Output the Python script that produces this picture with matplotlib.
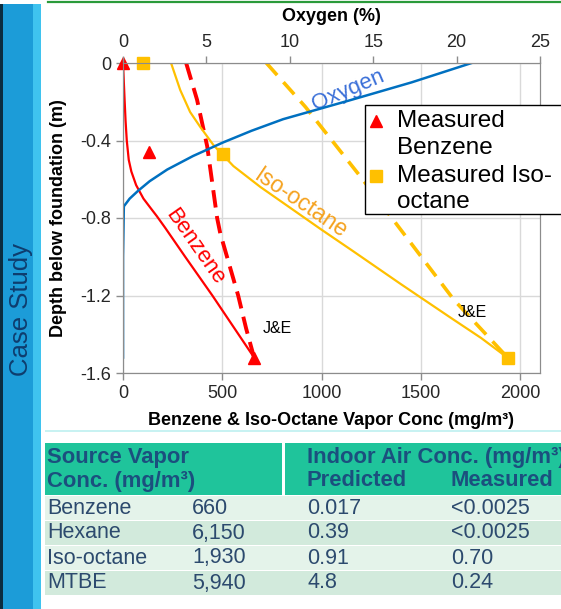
import matplotlib.pyplot as plt
from matplotlib.patches import Rectangle
from matplotlib.lines import Line2D

plt.rcParams['font.family'] = ['Liberation Sans', 'DejaVu Sans']
plt.rcParams['axes.unicode_minus'] = False

# ---- profile data (depth in m, concentrations in mg/m3, oxygen in %) ----
benz_depth = [0, -0.19, -0.3, -0.4, -0.5, -0.56, -0.63, -0.7, -0.75, -0.79,
              -0.85, -1.0, -1.2, -1.52]
benz_conc = [0, 8, 13, 19, 29, 42, 66, 103, 140, 170, 212, 313, 450, 660]

benz_je_depth = [0, -0.19, -0.43, -0.8, -0.88, -1.2, -1.37, -1.52]
benz_je_conc = [318, 373, 424, 474, 490, 580, 620, 660]

iso_depth = [0, -0.139, -0.253, -0.33, -0.423, -0.532, -0.64, -0.748, -0.857,
             -0.97, -1.141, -1.316, -1.419, -1.523]
iso_conc = [242, 288, 338, 389, 455, 556, 692, 843, 995, 1157, 1399, 1652, 1803, 1939]

iso_je_depth = [0, -0.227, -0.588, -0.95, -1.223, -1.523]
iso_je_conc = [722, 919, 1197, 1465, 1667, 1939]

o2_depth = [0, -0.1, -0.19, -0.29, -0.35, -0.41, -0.48, -0.55, -0.61, -0.66,
            -0.7, -0.74, -1.0, -1.52]
o2_pct = [20.9, 17.3, 13.7, 9.6, 7.7, 6.0, 4.2, 2.65, 1.6, 0.9, 0.4, 0.05, 0.0, 0.0]

meas_benz_conc = [0, 131, 660]
meas_benz_depth = [0, -0.46, -1.52]
meas_iso_conc = [101, 505, 1940]
meas_iso_depth = [0, -0.47, -1.52]

conc_ticks = [0, 500, 1000, 1500, 2000]
depth_ticks = [0, -0.4, -0.8, -1.2, -1.6]
depth_labels = ["0", "-0.4", "-0.8", "-1.2", "-1.6"]
o2_ticks = [0, 5, 10, 15, 20, 25]

# ---- table data ----
chemicals = ["Benzene", "Hexane", "Iso-octane", "MTBE"]
source_conc = ["660", "6,150", "1,930", "5,940"]
predicted = ["0.017", "0.39", "0.91", "4.8"]
measured = ["<0.0025", "<0.0025", "0.70", "0.24"]

RED = '#FF0000'
GOLD = '#FFC000'
BLUE = '#0070C0'

W, H = 561, 609
fig = plt.figure(figsize=(W / 100, H / 100), dpi=100)


def fx(px):
    return px / W


def fy(py):
    return 1 - py / H


def frect(x0, y0, x1, y1, **kw):
    # rectangle given in pixel coords (top-left origin)
    r = Rectangle((fx(x0), fy(y1)), fx(x1) - fx(x0), fy(y0) - fy(y1),
                  transform=fig.transFigure, **kw)
    fig.add_artist(r)
    return r


# side bar and top rule
frect(0, 4, 3, H, color='#0b2d40', lw=0)
frect(3, 4, 33, H, color='#1c9cd8', lw=0)
frect(33, 4, 41, H, color='#3fc3ef', lw=0)
fig.add_artist(Line2D([fx(48), 1], [fy(2), fy(2)], transform=fig.transFigure,
                      color='#2a9a3a', lw=1.6))
fig.text(fx(21), fy(310), "Case Study", rotation=90, fontsize=18.5,
         color='#0e3d6e', ha='center', va='center')

# ---- chart ----
ax = fig.add_axes([fx(123), fy(373), fx(540) - fx(123), fy(63) - fy(373)])
ax.set_xlim(0, 2100)
ax.set_ylim(-1.6, 0)
ax.set_xticks(conc_ticks)
ax.set_yticks(depth_ticks)
ax.set_yticklabels(depth_labels)
ax.grid(True, color='#d9d9d9', lw=1)
ax.set_axisbelow(True)

ax.plot(benz_conc, benz_depth, color=RED, lw=1.6)
ax.plot(benz_je_conc, benz_je_depth, color=RED, lw=2.8, dashes=(4.5, 2.2))
ax.plot(iso_conc, iso_depth, color=GOLD, lw=1.6)
ax.plot(iso_je_conc, iso_je_depth, color=GOLD, lw=2.6, dashes=(4.5, 2.6))
ax.plot(meas_benz_conc, meas_benz_depth, ls='none', marker='^', ms=9,
        color=RED, clip_on=False, zorder=5)
ax.plot(meas_iso_conc, meas_iso_depth, ls='none', marker='s', ms=8.5,
        color=GOLD, clip_on=False, zorder=5)

ax.text(364, -0.95, "Benzene", rotation=-55, color=RED, fontsize=16,
        ha='center', va='center', rotation_mode='anchor')
ax.text(894, -0.725, "Iso-octane", rotation=-34, color='#F5A21E', fontsize=16.5,
        ha='center', va='center', rotation_mode='anchor')
ax.text(1136, -0.139, "Oxygen", rotation=23, color='#3a6fd8', fontsize=16,
        ha='center', va='center', rotation_mode='anchor')
ax.text(702, -1.368, "J&E", fontsize=11.5, ha='left', va='center')
ax.text(1687, -1.29, "J&E", fontsize=11.5, ha='left', va='center')

ax.set_xlabel("Benzene & Iso-Octane Vapor Conc (mg/m³)", fontsize=13,
              fontweight='bold')
ax.set_ylabel("Depth below foundation (m)", fontsize=13, fontweight='bold')
ax.xaxis.set_label_coords(0.5, -0.125)
ax.yaxis.set_label_coords(-0.135, 0.5)

ax2 = ax.twiny()
ax2.set_xlim(0, 25)
ax2.set_xticks(o2_ticks)
ax2.plot(o2_pct, o2_depth, color=BLUE, lw=1.8)
ax2.set_xlabel("Oxygen (%)", fontsize=13, fontweight='bold')
ax2.xaxis.set_label_coords(0.5, 1.135)

for a in (ax, ax2):
    for s in a.spines.values():
        s.set_color('#8c8c8c')
    a.tick_params(colors='#8c8c8c', labelcolor='#262626', labelsize=13,
                  length=5, width=1)

# ---- legend ----
frect(365, 105, 575, 214, facecolor='white', edgecolor='black', lw=1, zorder=4)
fig.add_artist(Line2D([fx(376)], [fy(121)], transform=fig.transFigure,
                      marker='^', ms=9, color=RED, ls='none', zorder=5))
fig.add_artist(Line2D([fx(376)], [fy(176)], transform=fig.transFigure,
                      marker='s', ms=8.5, color=GOLD, ls='none', zorder=5))
for txt, py in [("Measured", 121), ("Benzene", 148),
                ("Measured Iso-", 176), ("octane", 202)]:
    fig.text(fx(397), fy(py), txt, fontsize=17.5, ha='left', va='center',
             zorder=6)

# ---- table ----
HEAD = '#1fc49b'
frect(45, 430, W, 432, color='#c8f2f2', lw=0)
frect(45, 443, 282, 495, color=HEAD, lw=0)
frect(285, 443, W, 495, color=HEAD, lw=0)
row_cols = ['#e4f3ea', '#d2eadc']
for i in range(len(chemicals)):
    frect(45, 496 + 25 * i, W, 520 + 25 * i, color=row_cols[i % 2], lw=0)

hcol = '#1b4f7e'
hsize = 15.8
fig.text(fx(47), fy(458), "Source Vapor", fontsize=hsize, fontweight='bold',
         color=hcol, va='center')
fig.text(fx(47), fy(481), "Conc. (mg/m³)", fontsize=hsize, fontweight='bold',
         color=hcol, va='center')
fig.text(fx(307), fy(458), "Indoor Air Conc. (mg/m³)", fontsize=hsize,
         fontweight='bold', color=hcol, va='center')
fig.text(fx(307), fy(481), "Predicted", fontsize=hsize, fontweight='bold',
         color=hcol, va='center')
fig.text(fx(451), fy(481), "Measured", fontsize=hsize, fontweight='bold',
         color=hcol, va='center')

rcol = '#2c4a6e'
for i in range(len(chemicals)):
    py = 508 + 25 * i
    for px, txt in [(47, chemicals[i]), (192, source_conc[i]),
                    (307, predicted[i]), (451, measured[i])]:
        fig.text(fx(px), fy(py), txt, fontsize=15.5, color=rcol, va='center')

fig.savefig("out.png", dpi=100)
